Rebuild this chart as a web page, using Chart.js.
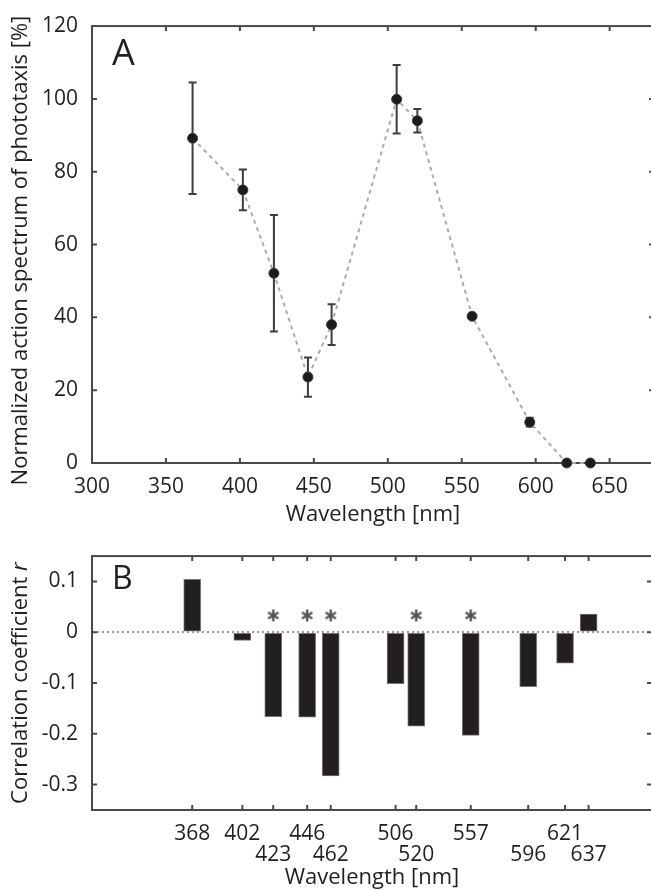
<!DOCTYPE html>
<html>
<head>
<meta charset="utf-8">
<script src="https://cdn.jsdelivr.net/npm/chart.js@4.4.1/dist/chart.umd.min.js"></script>
<style>
  html, body { margin: 0; background: #fff; }
  #wrap { width: 651px; height: 890px; overflow: hidden; }
  canvas { display: block; }
</style>
</head>
<body>
<div id="wrap">
  <canvas id="spec" width="660" height="530"></canvas>
  <canvas id="corr" width="660" height="360"></canvas>
</div>
<script>
// ---------- data ----------
const wavelengths = [368, 402, 423, 446, 462, 506, 520, 557, 596, 621, 637];
const response    = [89.2, 75.0, 52.1, 23.6, 38.0, 99.9, 94.0, 40.3, 11.2, 0, 0];
const responseErr = [15.3, 5.6, 16.0, 5.4, 5.6, 9.4, 3.2, 0.5, 1.2, 0, 0];
const corrR       = [0.104, -0.016, -0.166, -0.167, -0.283, -0.101, -0.185, -0.203, -0.107, -0.061, 0.036];
const significant = [423, 446, 462, 520, 557];
const starLevel   = 0.033;

const specXTicks = [300, 350, 400, 450, 500, 550, 600, 650];
const specYTicks = [0, 20, 40, 60, 80, 100, 120];
const corrYTicks = [-0.3, -0.2, -0.1, 0, 0.1];
const lowerRow   = [423, 462, 520, 596, 637];   // labels on second line

const INK = '#231f20', AXIS = '#4a4a4a';
const FONT = '"Open Sans", sans-serif';
Chart.defaults.font.family = FONT;
Chart.defaults.color = INK;

// ---------- helpers / plugins ----------
const fixTicks = vals => scale => { scale.ticks = vals.map(v => ({value: v})); };

const framePlugin = {
  id: 'frame',
  beforeDatasetsDraw(chart){
    const {ctx, chartArea: a, scales} = chart;
    ctx.save();
    ctx.strokeStyle = AXIS; ctx.lineWidth = 2;
    ctx.strokeRect(a.left, a.top, a.right - a.left, a.bottom - a.top);
    ctx.beginPath();
    scales.x.ticks.forEach(t => {
      const p = scales.x.getPixelForValue(t.value);
      ctx.moveTo(p, a.bottom); ctx.lineTo(p, a.bottom - 5);
      ctx.moveTo(p, a.top);    ctx.lineTo(p, a.top + 5);
    });
    scales.y.ticks.forEach(t => {
      const p = scales.y.getPixelForValue(t.value);
      ctx.moveTo(a.left, p);  ctx.lineTo(a.left + 5, p);
      ctx.moveTo(a.right, p); ctx.lineTo(a.right - 5, p);
    });
    ctx.stroke();
    ctx.restore();
  }
};

function decor(letter, letterSize, letterBase, parts, titleX){
  return {
    id: 'decor',
    afterDraw(chart){
      const {ctx, chartArea: a} = chart;
      ctx.save();
      ctx.fillStyle = INK;
      ctx.font = `${letterSize}px ${FONT}`;
      ctx.textBaseline = 'alphabetic'; ctx.textAlign = 'left';
      ctx.fillText(letter, a.left + 20, letterBase);
      // rotated y title, parts may be italic
      const fonts = parts.map(p => `${p.italic ? 'italic ' : ''}22px ${FONT}`);
      let total = 0;
      const widths = parts.map((p, i) => { ctx.font = fonts[i]; const w = ctx.measureText(p.t).width; total += w; return w; });
      ctx.translate(titleX, (a.top + a.bottom) / 2 + (parts.cy || 0));
      ctx.rotate(-Math.PI / 2);
      ctx.textBaseline = 'middle';
      let x = -total / 2;
      parts.forEach((p, i) => { ctx.font = fonts[i]; ctx.fillText(p.t, x, 0); x += widths[i]; });
      ctx.restore();
    }
  };
}

const errorBars = {
  id: 'errorBars',
  beforeDatasetsDraw(chart){
    const {ctx, scales: {x, y}} = chart;
    ctx.save();
    ctx.strokeStyle = '#3d3d3d'; ctx.lineWidth = 2;
    ctx.beginPath();
    wavelengths.forEach((w, i) => {
      if (!responseErr[i]) return;
      const px = x.getPixelForValue(w);
      const hi = y.getPixelForValue(response[i] + responseErr[i]);
      const lo = y.getPixelForValue(response[i] - responseErr[i]);
      ctx.moveTo(px, hi); ctx.lineTo(px, lo);
      ctx.moveTo(px - 4, hi); ctx.lineTo(px + 4, hi);
      ctx.moveTo(px - 4, lo); ctx.lineTo(px + 4, lo);
    });
    ctx.stroke();
    ctx.restore();
  }
};

function asteriskImg(){
  const c = document.createElement('canvas'); c.width = c.height = 14;
  const g = c.getContext('2d');
  g.strokeStyle = '#555'; g.lineWidth = 2.4;
  for (let k = 0; k < 3; k++){
    const an = Math.PI / 2 + k * Math.PI / 3;
    g.beginPath();
    g.moveTo(7 + 6 * Math.cos(an), 7 + 6 * Math.sin(an));
    g.lineTo(7 - 6 * Math.cos(an), 7 - 6 * Math.sin(an));
    g.stroke();
  }
  return c;
}

const tickFont = {size: 21, lineHeight: 1.15};
const titleFont = {size: 22, lineHeight: 1.2};

// ---------- A: action spectrum ----------
const yTitleA = [{t: 'Normalized action spectrum of phototaxis [%]'}];
yTitleA.cy = 6;
new Chart(document.getElementById('spec'), {
  type: 'line',
  data: {datasets: [{
    data: wavelengths.map((w, i) => ({x: w, y: response[i]})),
    borderColor: '#ababab', borderWidth: 2, borderDash: [4, 4],
    pointRadius: 5, pointBackgroundColor: '#1c1c1c', pointBorderColor: '#3a3a3a', pointBorderWidth: 1,
    tension: 0, clip: false
  }]},
  options: {
    responsive: false, animation: false,
    layout: {padding: {top: 20, right: 6, left: 0, bottom: 0}},
    plugins: {legend: {display: false}, tooltip: {enabled: false}},
    scales: {
      x: {type: 'linear', min: 300, max: 680,
        afterBuildTicks: fixTicks(specXTicks),
        afterFit: s => { s.height = 67; },
        grid: {display: false, drawTicks: false}, border: {display: false},
        ticks: {font: tickFont, padding: 12, maxRotation: 0},
        title: {display: true, text: 'Wavelength [nm]', font: titleFont, padding: {top: 0, bottom: 2}}},
      y: {min: 0, max: 120,
        afterBuildTicks: fixTicks(specYTicks),
        afterFit: s => { s.width = 92; },
        grid: {display: false, drawTicks: false}, border: {display: false},
        ticks: {font: tickFont, padding: 14}}
    }
  },
  plugins: [framePlugin, errorBars, decor('A', 36, 65, yTitleA, 21)]
});

// ---------- B: correlation coefficient ----------
const yTitleB = [{t: 'Correlation coefficient '}, {t: 'r', italic: true}];
new Chart(document.getElementById('corr'), {
  type: 'bar',
  data: {datasets: [
    {type: 'bar', data: wavelengths.map((w, i) => ({x: w, y: corrR[i]})),
      backgroundColor: INK, borderColor: '#777', borderWidth: 1, borderSkipped: false,
      barThickness: 17},
    {type: 'scatter', data: significant.map(w => ({x: w, y: starLevel})),
      pointStyle: asteriskImg(), pointRadius: 7}
  ]},
  options: {
    responsive: false, animation: false,
    layout: {padding: {top: 17, right: 6, left: 0, bottom: 0}},
    plugins: {legend: {display: false}, tooltip: {enabled: false}},
    scales: {
      x: {type: 'linear', min: 300, max: 680, offset: false,
        afterBuildTicks: fixTicks(wavelengths),
        afterFit: s => { s.height = 80; },
        grid: {display: false, drawTicks: false}, border: {display: false},
        ticks: {font: {size: 21, lineHeight: 1.0}, padding: 14, maxRotation: 0, autoSkip: false,
          callback: v => lowerRow.includes(v) ? ['', String(v)] : String(v)},
        title: {display: true, text: 'Wavelength [nm]', font: {size: 22, lineHeight: 1.0}, padding: {top: 0, bottom: 1}}},
      y: {min: -0.35, max: 0.15,
        afterBuildTicks: fixTicks(corrYTicks),
        afterFit: s => { s.width = 92; },
        grid: {drawTicks: false, lineWidth: 2,
          color: c => (c.tick && Math.abs(c.tick.value) < 1e-9) ? '#9a9a9a' : 'rgba(0,0,0,0)'},
        border: {display: false, dash: [2, 3]},
        ticks: {font: tickFont, padding: 14,
          callback: v => Math.abs(v) < 1e-9 ? '0' : v.toFixed(1)}}
    }
  },
  plugins: [framePlugin, decor('B', 32, 59, yTitleB, 21)]
});
</script>
</body>
</html>
